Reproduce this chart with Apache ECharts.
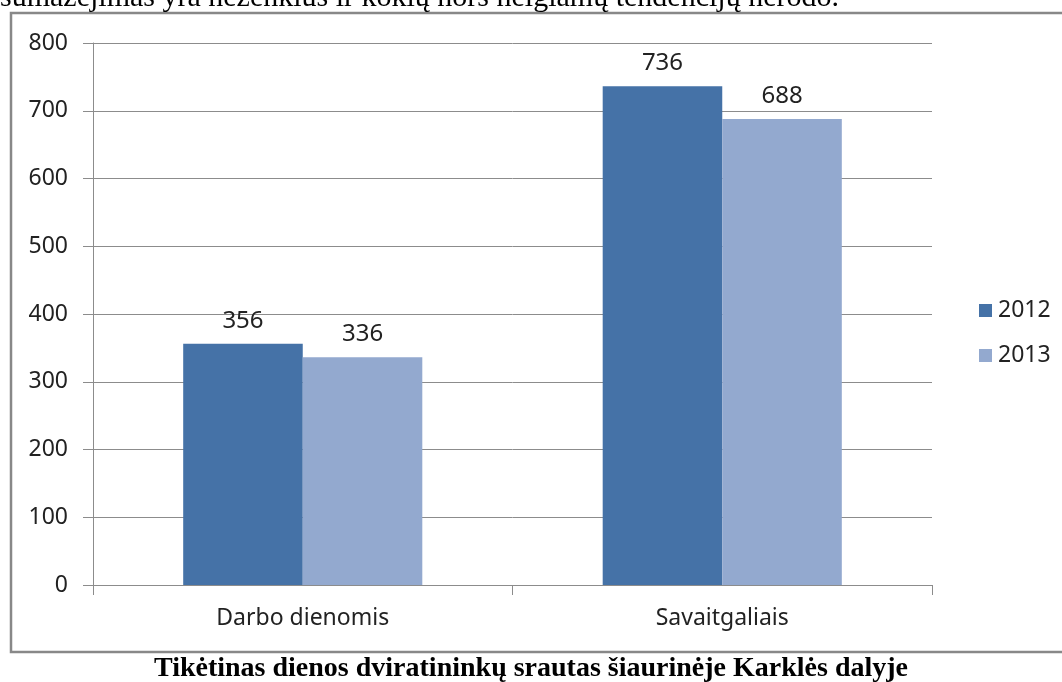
<!DOCTYPE html>
<html>
<head>
<meta charset="utf-8">
<script src="https://cdn.jsdelivr.net/npm/echarts@6/dist/echarts.min.js"></script>
<style>
html, body { margin: 0; padding: 0; background: #fff; }
#chart { width: 1062px; height: 682px; }
</style>
</head>
<body>
<div id="chart"></div>
<script>
let categories = ["Darbo dienomis", "Savaitgaliais"];
let years = ["2012", "2013"];
let values2012 = [356, 736];
let values2013 = [336, 688];

let colors = ["#4572A7", "#93A9CF"];
let labelFont = "Noto Sans";

let chart = echarts.init(document.getElementById("chart"));

let barLabel = {
	show: true,
	position: "top",
	distance: 11,
	color: "#222",
	fontFamily: labelFont,
	fontSize: 24
};

chart.setOption({
	animation: false,
	textStyle: {fontFamily: labelFont},
	grid: {left: 93, right: 130, top: 43, bottom: 97},
	legend: {
		orient: "vertical",
		left: 974,
		top: 294,
		itemWidth: 13,
		itemHeight: 13,
		itemGap: 22,
		icon: "rect",
		textStyle: {fontFamily: labelFont, fontSize: 23, color: "#222", padding: [0, 0, 0, 1]},
		data: years
	},
	xAxis: {
		type: "category",
		data: categories,
		axisLine: {lineStyle: {color: "#8c8c8c", width: 1}},
		axisTick: {show: true, length: 10, alignWithLabel: false, lineStyle: {color: "#8c8c8c"}},
		axisLabel: {margin: 22, color: "#222", fontFamily: labelFont, fontSize: 23}
	},
	yAxis: {
		type: "value",
		min: 0,
		max: 800,
		interval: 100,
		axisLine: {show: true, lineStyle: {color: "#8c8c8c", width: 1}},
		axisTick: {show: true, length: 10, lineStyle: {color: "#8c8c8c"}},
		axisLabel: {margin: 25, color: "#222", fontFamily: labelFont, fontSize: 23},
		splitLine: {lineStyle: {color: "#8c8c8c", width: 1}}
	},
	series: [
		{name: years[0], type: "bar", data: values2012, barGap: "0%", barCategoryGap: "43%",
			itemStyle: {color: colors[0]}, label: barLabel},
		{name: years[1], type: "bar", data: values2013, barGap: "0%", barCategoryGap: "43%",
			itemStyle: {color: colors[1]}, label: barLabel}
	],
	graphic: [
		{type: "rect", shape: {x: 11, y: 13, width: 1100, height: 639},
			style: {fill: "none", stroke: "#888", lineWidth: 2.5}, silent: true},
		{type: "text", x: 0, y: -2,
			style: {text: "sumažėjimas yra neženklus ir kokių nors neigiamų tendencijų nerodo.",
				font: "30px 'Liberation Serif'", fill: "#000", verticalAlign: "middle"}},
		{type: "text", x: 531, y: 669,
			style: {text: "Tikėtinas dienos dviratininkų srautas šiaurinėje Karklės dalyje",
				font: "bold 28px 'Liberation Serif'", fill: "#000", align: "center", verticalAlign: "middle"}}
	]
});
</script>
</body>
</html>
